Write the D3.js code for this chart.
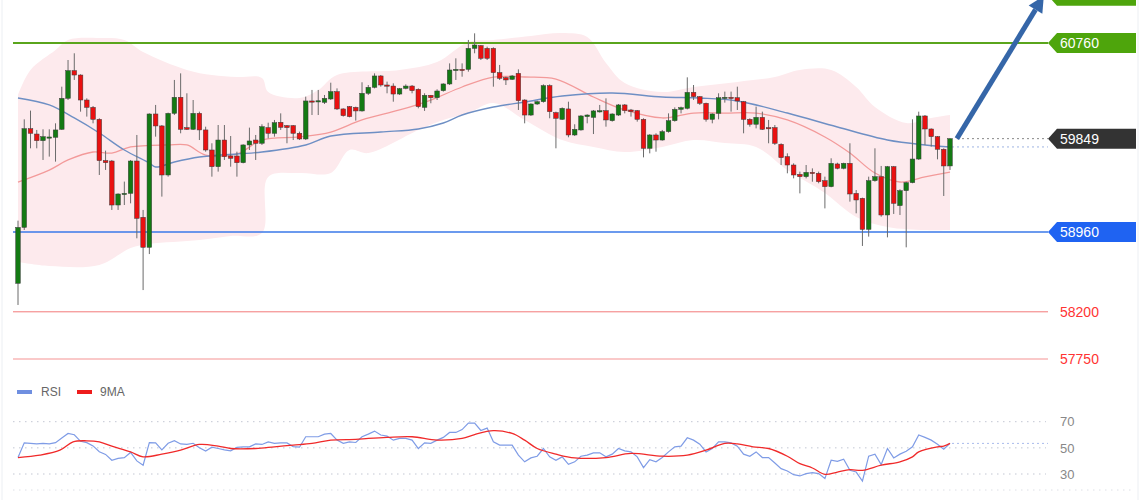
<!DOCTYPE html>
<html>
<head>
<meta charset="utf-8">
<script src="https://cdn.jsdelivr.net/npm/d3@7"></script>
<style>
body{margin:0;background:#fff;}
svg{display:block;font-family:"Liberation Sans", Arial, sans-serif;}
</style>
</head>
<body>
<svg></svg>
<script>
// candles: open, high, low, close
var ohlc = [
[58471,59068,58265,59004],[59004,60033,58979,59944],[59944,60116,59757,59900],[59893,59932,59757,59830],
[59830,59938,59646,59868],[59860,59938,59678,59865],[59862,59995,59630,59932],[59938,60344,59932,60233],
[60233,60598,60217,60497],[60497,60662,60408,60455],[60455,60462,60106,60217],[60217,60233,60059,60147],
[60147,60160,59995,60033],[60033,60043,59503,59640],[59640,59735,59551,59620],[59636,59646,59170,59217],
[59217,59328,59170,59322],[59322,59440,59217,59328],[59328,59646,59233,59636],[59636,59884,58900,59090],
[59100,59170,58407,58814],[58814,60090,58750,60084],[60084,60170,59868,59970],[59970,59979,59297,59503],
[59503,60097,59487,60090],[60090,60408,60074,60243],[60243,60471,59900,59938],[59954,60281,59932,59938],
[59938,60217,59932,60090],[60090,60106,59836,59932],[59932,59963,59725,59741],[59741,59805,59487,59582],
[59582,59979,59535,59836],[59836,59979,59646,59678],[59684,59874,59582,59662],[59684,59725,59487,59620],
[59620,59795,59614,59789],[59789,59954,59741,59827],[59836,59884,59646,59805],[59805,59986,59789,59963],
[59954,60001,59852,59900],[59900,60027,59868,60001],[60005,60090,59932,59957],[59973,59979,59805,59954],
[59973,59979,59836,59900],[59900,59916,59836,59846],[59846,60249,59836,60208],[60208,60313,60074,60205],
[60205,60313,60074,60210],[60195,60265,60179,60233],[60227,60382,60217,60297],[60297,60328,60122,60132],
[60132,60138,60059,60068],[60154,60160,60052,60059],[60147,60154,60021,60113],[60113,60386,60106,60281],
[60281,60360,60265,60338],[60338,60471,60328,60446],[60446,60455,60344,60360],[60360,60392,60281,60355],
[60350,60376,60201,60274],[60274,60332,60265,60325],[60328,60366,60319,60350],[60350,60360,60281,60306],
[60319,60328,60138,60154],[60147,60281,60113,60262],[60262,60265,60186,60239],[60239,60319,60217,60303],
[60306,60376,60297,60370],[60370,60566,60360,60503],[60503,60614,60408,60509],[60509,60566,60439,60503],
[60509,60789,60487,60709],[60709,60852,60662,60741],[60735,60741,60598,60614],[60709,60725,60598,60614],
[60709,60719,60344,60478],[60478,60551,60408,60424],[60430,60440,60360,60408],[60414,60455,60408,60446],
[60471,60509,60122,60211],[60217,60224,59995,60074],[60074,60186,60065,60179],[60179,60211,60170,60201],
[60201,60366,60192,60354],[60354,60366,60043,60106],[60097,60106,59757,60043],[60033,60147,60027,60138],
[60132,60201,59862,59884],[59884,59986,59874,59938],[59932,60074,59925,60065],[60059,60081,59995,60074],
[60052,60122,59893,60113],[60113,60170,60097,60115],[60116,60233,59963,60027],[60020,60090,60011,60084],
[60074,60179,60065,60170],[60170,60179,60090,60116],[60122,60132,60059,60106],[60116,60122,60011,60033],
[60033,60043,59671,59757],[59757,59893,59709,59884],[59884,59900,59725,59836],[59836,59932,59830,59916],
[59916,60090,59906,60020],[60020,60147,60011,60128],[60128,60154,60090,60144],[60138,60433,60128,60290],
[60290,60360,60217,60249],[60249,60255,60170,60186],[60186,60192,60011,60033],[60033,60090,59995,60084],
[60090,60281,60033,60239],[60239,60297,60192,60243],[60243,60297,60106,60239],[60239,60344,60122,60208],
[60201,60208,59900,60033],[60033,60043,59963,59986],[59986,60154,59947,60052],[60052,60106,59932,59938],
[59954,60027,59805,59944],[59954,59979,59789,59805],[59795,59805,59598,59668],[59678,59709,59519,59598],
[59598,59614,59471,59503],[59509,59535,59328,59487],[59487,59598,59471,59528],[59528,59566,59439,59525],
[59519,59535,59424,59439],[59449,59487,59185,59392],[59392,59662,59386,59614],[59608,59620,59557,59567],
[59567,59620,59557,59614],[59614,59805,59249,59322],[59328,59360,59138,59265],[59281,59287,58827,58985],
[58985,59487,58916,59449],[59449,59757,59439,59487],[59487,59589,59106,59122],[59122,59589,58909,59582],
[59582,59589,59132,59233],[59211,59367,59122,59354],[59354,59439,58814,59430],[59430,60033,59424,59655],
[59655,60106,59646,60065],[60065,60074,59789,59941],[59941,59947,59773,59868],[59868,59874,59652,59748],
[59748,59757,59303,59589],[59589,59852,59551,59849]
];

// [candle index, value] read along the overlays
var bandUpper = [[0,60265],[2,60503],[6,60693],[8,60789],[13,60808],[17,60789],[20,60674],[27,60503],[31,60455],
  [35,60436],[39,60427],[40,60293],[45,60236],[48,60312],[51,60455],[61,60503],[67,60579],[72,60770],[76,60789],
  [82,60827],[87,60855],[91,60817],[94,60570],[97,60379],[103,60293],[108,60341],[115,60389],[121,60436],
  [125,60503],[130,60503],[134,60341],[137,60150],[142,59998],[146,60046],[149,60074]];
var bandLower = [[0,58674],[5,58636],[13,58646],[18,58808],[21,58846],[29,58884],[34,58922],[39,58950],[40,59484],
  [45,59522],[50,59522],[53,59741],[56,59712],[64,59931],[68,60027],[72,60093],[76,60189],[81,60027],[87,59836],
  [92,59770],[97,59722],[103,59770],[108,59836],[113,59808],[118,59770],[123,59550],[129,59331],[134,59103],
  [139,59008],[145,58979],[149,58979]];
var maFast = [[0,59436],[5,59550],[8,59646],[12,59722],[15,59712],[18,59770],[24,59789],[27,59789],[30,59693],
  [35,59703],[39,59836],[45,59865],[50,59912],[55,60027],[61,60122],[66,60217],[71,60341],[76,60436],[81,60436],
  [86,60417],[92,60246],[97,60122],[103,60046],[108,60093],[113,60093],[118,60093],[123,60027],[129,59865],
  [133,59712],[137,59522],[141,59436],[145,59484],[149,59531]];
var maSlow = [[0,60236],[5,60170],[9,60046],[13,59903],[17,59741],[21,59617],[22,59579],[25,59627],[29,59674],
  [35,59703],[39,59722],[46,59789],[50,59874],[58,59912],[64,59941],[68,59998],[71,60074],[76,60150],[81,60198],
  [87,60255],[95,60284],[103,60246],[109,60236],[115,60208],[123,60093],[131,59960],[139,59836],[145,59789],
  [149,59770]];

var rsi = [42.6,53.8,53.4,53,53.4,53,54,57.5,61,60,55,54,51.5,47,45,40.5,42,42.5,46.5,40,
  36.7,54,53.8,48.5,53.5,55.5,53,52.6,53.5,50,47.5,50.5,49.5,48.5,47.7,50.3,50.8,50.8,53,52.6,
  54.6,53.4,53.8,53.8,51,50.5,58.5,58.5,58.5,60.5,61,55.9,53.4,54.6,54.1,58.5,60.5,62.8,59.8,59,
  55.9,57.2,57.2,55.9,49.5,53.8,53.4,55.9,58,61.8,61.8,64,68.9,68.9,63.3,65.1,54.6,52.1,52.1,52.1,
  44.4,39.3,42.3,43.6,49.5,43.1,40.5,43.1,37.4,39.3,43.6,44.4,46.2,46.2,43.1,45.2,49.5,47.7,46.9,43.1,
  34.9,41,39.3,42.6,46.9,50.8,51.3,57.7,55.9,52.8,46.9,49.5,54.6,54.6,53.8,51.3,45.2,43.6,46.9,42.6,
  42.6,38.4,34.1,32.3,29.5,28.5,30.3,31,30.3,26.5,40.5,39.7,41.3,32.8,31.5,24.6,43.6,45.2,37.2,49.5,
  42.3,45.2,47.4,50.8,59.8,58,55.9,52.8,49,53.4];
var rsiMa = [[0,42.6],[3.5,44.4],[6.7,48.2],[8.8,54.6],[11,55.4],[13,54.6],[15,51.3],[18,46.9],[20,43.1],
  [23,45.2],[26,48.2],[29,52.6],[32,51.3],[34,49.5],[38,49.5],[41,50.8],[44,52.1],[47,53.4],[50,55.9],
  [54,56.5],[56,57.2],[59,58],[63,58.5],[67,55.9],[71,57.2],[73,60.2],[76,63.1],[79,61],[81,55.9],
  [83,49.5],[86,45.2],[89,42.3],[94,42.6],[98,45.7],[103,43.6],[107,44.4],[110,48.2],[113,53.4],[115,53],
  [117.5,50.8],[120,49.5],[123,43.6],[125,37.9],[127,34.6],[129,29.7],[131,31.5],[133,33.3],[135,32.8],
  [138,36.7],[141,39.3],[143,43.1],[144,46.9],[147,50.8],[148,51.3],[149,53.4]];

var resistance = 60760;
var support = 58960;
var lastPrice = 59849;
var targetPrice = 61210;
var lowerLevels = [58200, 57750];
var rsiTicks = [70, 50, 30];
var arrowPts = [[150.1, 59849], [164, 61208]];

var svg = d3.select("svg").attr("width", 1140).attr("height", 500);

var x = d3.scaleLinear().domain([0, ohlc.length - 1]).range([18, 950]);
var y = d3.scaleLinear().domain([support, resistance]).range([232, 43]);
var yRsi = d3.scaleLinear().domain([30, 70]).range([474, 421.7]);

// faint frame
svg.append("line").attr("x1", 2).attr("x2", 2).attr("y1", 0).attr("y2", 500).attr("stroke", "#eceff3");
svg.append("line").attr("x1", 1138).attr("x2", 1138).attr("y1", 0).attr("y2", 500).attr("stroke", "#eceff3");

var line = d3.line()
  .x(function(d){ return x(d[0]); })
  .y(function(d){ return y(d[1]); })
  .curve(d3.curveCatmullRom.alpha(0.5));

// bollinger band
var bandPath = line(bandUpper) + "L" + line(bandLower.slice().reverse()).slice(1) + "Z";
svg.append("path").attr("d", bandPath).attr("fill", "#fdeaed");

svg.append("path").attr("d", line(maFast)).attr("fill", "none")
  .attr("stroke", "#f39a9a").attr("stroke-width", 1.3);
svg.append("path").attr("d", line(maSlow)).attr("fill", "none")
  .attr("stroke", "#6e8fc4").attr("stroke-width", 1.4);

// horizontal levels
svg.append("line").attr("x1", 13).attr("x2", 1048).attr("y1", y(resistance)).attr("y2", y(resistance))
  .attr("stroke", "#5aa51c").attr("stroke-width", 2);
svg.append("line").attr("x1", 13).attr("x2", 1048).attr("y1", y(support)).attr("y2", y(support))
  .attr("stroke", "#3a78e8").attr("stroke-width", 1.5);
svg.selectAll(".lvl").data(lowerLevels).enter().append("line")
  .attr("x1", 13).attr("x2", 1048)
  .attr("y1", function(d){ return y(d); }).attr("y2", function(d){ return y(d); })
  .attr("stroke", function(d, i){ return i == 0 ? "#f27a7a" : "#f9b7b7"; })
  .attr("stroke-width", function(d, i){ return i == 0 ? 1 : 1.5; });

var lowAxis = svg.append("g").attr("transform", "translate(1060,0)")
  .call(d3.axisRight(y).tickValues(lowerLevels).tickSize(0).tickPadding(0).tickFormat(d3.format("d")));
lowAxis.select(".domain").remove();
lowAxis.selectAll("text").attr("fill", "#ff3333").attr("font-size", 14)
  .attr("font-family", "Liberation Sans, Arial, sans-serif");

// dotted continuation of last price and slow ma
var lastMa = maSlow[maSlow.length - 1][1];
svg.append("line").attr("x1", 957).attr("x2", 1048).attr("y1", y(lastPrice)).attr("y2", y(lastPrice))
  .attr("stroke", "#888").attr("stroke-dasharray", "2,3");
svg.append("line").attr("x1", 952).attr("x2", 1048).attr("y1", y(lastMa)).attr("y2", y(lastMa))
  .attr("stroke", "#9db3e2").attr("stroke-dasharray", "2,3");

// candles
var candle = svg.append("g").selectAll("g").data(ohlc).enter().append("g");
candle.append("line")
  .attr("x1", function(d, i){ return x(i); }).attr("x2", function(d, i){ return x(i); })
  .attr("y1", function(d){ return y(d[1]); }).attr("y2", function(d){ return y(d[2]); })
  .attr("stroke", "#6b6b6b").attr("stroke-width", 1);
candle.append("rect")
  .attr("x", function(d, i){ return x(i) - 2.3; })
  .attr("width", 4.6)
  .attr("y", function(d){ return y(Math.max(d[0], d[3])); })
  .attr("height", function(d){ return Math.max(1.2, Math.abs(y(d[0]) - y(d[3]))); })
  .attr("fill", function(d){ return d[3] >= d[0] ? "#137a13" : "#ea1010"; })
  .attr("stroke", "#3a3a3a").attr("stroke-width", 0.5);

// price tags
var tag = function(value, fill, label){
  var yy = y(value);
  svg.append("path")
    .attr("d", "M1048," + yy + "L1057," + (yy - 10) + "L1136," + (yy - 10) + "L1136," + (yy + 10) + "L1057," + (yy + 10) + "Z")
    .attr("fill", fill);
  if (label) {
    svg.append("text").attr("x", 1060).attr("y", yy + 5).attr("fill", "#fff")
      .attr("font-size", 14).text(label);
  }
}
tag(targetPrice, "#4ea50c", null);
tag(resistance, "#4ea50c", resistance);
tag(lastPrice, "#333333", lastPrice);
tag(support, "#1f63f2", support);

// arrow
var ax0 = x(arrowPts[0][0]), ay0 = y(arrowPts[0][1]);
var ax1 = x(arrowPts[1][0]), ay1 = y(arrowPts[1][1]);
var len = Math.sqrt((ax1 - ax0) * (ax1 - ax0) + (ay1 - ay0) * (ay1 - ay0));
var ux = (ax1 - ax0) / len, uy = (ay1 - ay0) / len;
var bx = ax1 - 16 * ux, by = ay1 - 16 * uy;
svg.append("line").attr("x1", ax0).attr("y1", ay0).attr("x2", bx).attr("y2", by)
  .attr("stroke", "#3566a8").attr("stroke-width", 5);
svg.append("path")
  .attr("d", "M" + ax1 + "," + ay1 + "L" + (bx - 8 * uy) + "," + (by + 8 * ux) + "L" + (bx + 8 * uy) + "," + (by - 8 * ux) + "Z")
  .attr("fill", "#3566a8");

// RSI panel
var legend = svg.append("g");
legend.append("rect").attr("x", 17).attr("y", 390).attr("width", 15).attr("height", 4).attr("fill", "#6f8fe0");
legend.append("text").attr("x", 41).attr("y", 396).attr("fill", "#666").attr("font-size", 12).text("RSI");
legend.append("rect").attr("x", 77).attr("y", 390).attr("width", 15).attr("height", 4).attr("fill", "#ee1c1c");
legend.append("text").attr("x", 100).attr("y", 396).attr("fill", "#666").attr("font-size", 12).text("9MA");

svg.selectAll(".grid").data(rsiTicks).enter().append("line")
  .attr("x1", 13).attr("x2", 1046)
  .attr("y1", function(d){ return yRsi(d); }).attr("y2", function(d){ return yRsi(d); })
  .attr("stroke", "#c3c7d3").attr("stroke-dasharray", "1.5,4.5");
svg.append("line").attr("x1", 13).attr("x2", 1132).attr("y1", 490).attr("y2", 490)
  .attr("stroke", "#dde0e6").attr("stroke-dasharray", "1.5,4.5");

var rsiAxis = svg.append("g").attr("transform", "translate(1060,0)")
  .call(d3.axisRight(yRsi).tickValues(rsiTicks).tickSize(0).tickPadding(0));
rsiAxis.select(".domain").remove();
rsiAxis.selectAll("text").attr("fill", "#888").attr("font-size", 13)
  .attr("font-family", "Liberation Sans, Arial, sans-serif");

var rsiLine = d3.line()
  .x(function(d, i){ return x(i); })
  .y(function(d){ return yRsi(d); });
svg.append("path").attr("d", rsiLine(rsi)).attr("fill", "none")
  .attr("stroke", "#7f9ce6").attr("stroke-width", 1.2);

var maLine = d3.line()
  .x(function(d){ return x(d[0]); })
  .y(function(d){ return yRsi(d[1]); })
  .curve(d3.curveCatmullRom.alpha(0.5));
svg.append("path").attr("d", maLine(rsiMa)).attr("fill", "none")
  .attr("stroke", "#f02a2a").attr("stroke-width", 1.3);

var lastRsi = rsi[rsi.length - 1];
svg.append("line").attr("x1", 952).attr("x2", 1048).attr("y1", yRsi(lastRsi)).attr("y2", yRsi(lastRsi))
  .attr("stroke", "#a9bbec").attr("stroke-dasharray", "2,3");
</script>
</body>
</html>
